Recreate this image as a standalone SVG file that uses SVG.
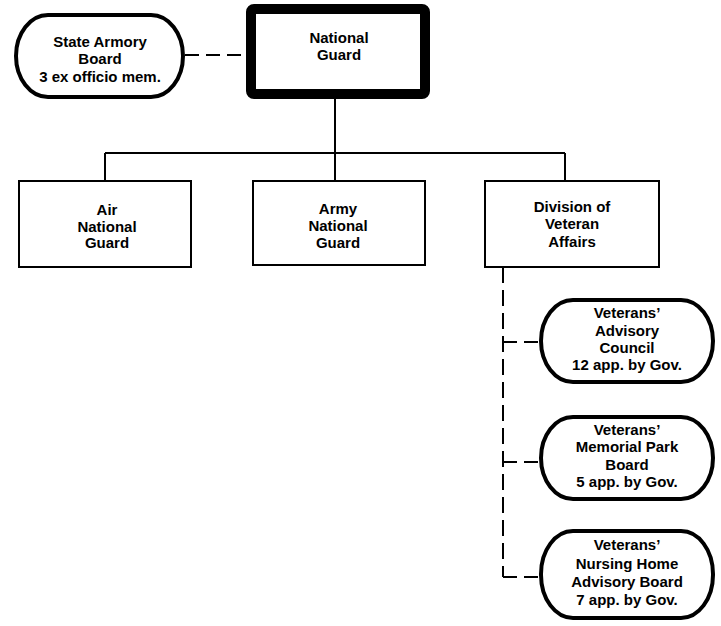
<svg xmlns="http://www.w3.org/2000/svg" width="721" height="626" viewBox="0 0 721 626">
<style>
text{font-family:"Liberation Sans",Arial,sans-serif;font-weight:bold;font-size:15px;text-anchor:middle;fill:#000}
.box{fill:#fff;stroke:#000;stroke-width:2}
.stad{fill:#fff;stroke:#000;stroke-width:4}
.ln{fill:none;stroke:#000;stroke-width:2}
.dash{fill:none;stroke:#000;stroke-width:2;stroke-dasharray:14 7}
</style>
<rect width="721" height="626" fill="#fff"/>
<g id="connectors">
<path class="dash" d="M185 55 H246"/>
<path class="ln" d="M335 99 V153 M105 153 H565 M105 153 V181 M335 153 V181 M565 153 V181"/>
<path class="dash" d="M503 267 V577" style="stroke-dasharray:16 7"/>
<path class="dash" d="M503 342 H539 M503 462 H539 M503 577 H539"/>
</g>
<g id="state-armory-board">
<rect class="stad" x="16" y="15" width="167" height="82" rx="32" ry="41"/>
<text x="100" y="47">State Armory</text>
<text x="100" y="64">Board</text>
<text x="100" y="82">3 ex officio mem.</text>
</g>
<g id="national-guard">
<rect x="251" y="9" width="174" height="85" rx="3" fill="#fff" stroke="#000" stroke-width="10"/>
<text x="339" y="43">National</text>
<text x="339" y="60">Guard</text>
</g>
<g id="air-national-guard">
<rect class="box" x="19" y="181" width="172" height="86"/>
<text x="107" y="215">Air</text>
<text x="107" y="232">National</text>
<text x="107" y="248">Guard</text>
</g>
<g id="army-national-guard">
<rect class="box" x="253" y="181" width="172" height="84"/>
<text x="338" y="214">Army</text>
<text x="338" y="231">National</text>
<text x="338" y="248">Guard</text>
</g>
<g id="division-veteran-affairs">
<rect class="box" x="485" y="181" width="174" height="86"/>
<text x="572" y="212">Division of</text>
<text x="572" y="229">Veteran</text>
<text x="572" y="247">Affairs</text>
</g>
<g id="veterans-advisory-council">
<rect class="stad" x="541" y="300" width="172" height="82" rx="32" ry="41"/>
<text x="627" y="318">Veterans’</text>
<text x="627" y="336">Advisory</text>
<text x="627" y="353">Council</text>
<text x="627" y="370">12 app. by Gov.</text>
</g>
<g id="veterans-memorial-park-board">
<rect class="stad" x="541" y="417" width="172" height="82" rx="32" ry="41"/>
<text x="627" y="435">Veterans’</text>
<text x="627" y="452">Memorial Park</text>
<text x="627" y="470">Board</text>
<text x="627" y="487">5 app. by Gov.</text>
</g>
<g id="veterans-nursing-home-advisory-board">
<rect class="stad" x="541" y="531" width="172" height="87" rx="32" ry="43"/>
<text x="627" y="550">Veterans’</text>
<text x="627" y="569">Nursing Home</text>
<text x="627" y="587">Advisory Board</text>
<text x="627" y="605">7 app. by Gov.</text>
</g>
</svg>
